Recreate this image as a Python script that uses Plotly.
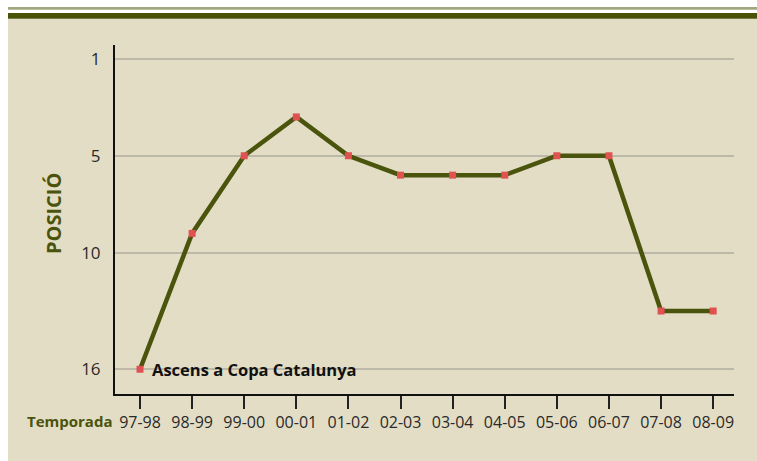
import plotly.graph_objects as go

seasons = ["97-98", "98-99", "99-00", "00-01", "01-02", "02-03",
           "03-04", "04-05", "05-06", "06-07", "07-08", "08-09"]
positions = [16, 9, 5, 3, 5, 6, 6, 6, 5, 5, 13, 13]
ytick_vals = [0, 5, 10, 16]
ytick_text = ["1", "5", "10", "16"]
note_text = "Ascens a Copa Catalunya"

W, H = 757, 461
L, R, T, B = 115, 23, 45, 67
pw, ph = W - L - R, H - T - B

def px(x):
    return (x - L) / pw

def py(y):
    return (H - B - y) / ph

BEIGE = "#e3ddc5"
OLIVE = "#4a540c"
FONT = "Open Sans"

fig = go.Figure()
fig.add_trace(go.Scatter(
    x=list(range(len(seasons))), y=positions, mode="lines+markers",
    line=dict(color=OLIVE, width=4.5),
    marker=dict(symbol="square", size=7, color="#e05252", line=dict(width=0)),
    hoverinfo="skip", showlegend=False, cliponaxis=False,
))

shapes = [
    dict(type="rect", xref="paper", yref="paper", x0=px(0), x1=px(W), y0=py(0), y1=py(19),
         fillcolor="white", line=dict(width=0), layer="above"),
    dict(type="rect", xref="paper", yref="paper", x0=px(0), x1=px(8), y0=py(0), y1=py(H),
         fillcolor="white", line=dict(width=0), layer="above"),
    dict(type="rect", xref="paper", yref="paper", x0=px(8), x1=px(W), y0=py(7), y1=py(9.7),
         fillcolor="#a2a67f", line=dict(width=0), layer="above"),
    dict(type="rect", xref="paper", yref="paper", x0=px(8), x1=px(W), y0=py(13), y1=py(18.7),
         fillcolor="#4a5206", line=dict(width=0), layer="above"),
]

annotations = [
    dict(x=0, y=positions[0], xref="x", yref="y", text="<b>" + note_text + "</b>",
         xanchor="left", yanchor="middle", xshift=10, showarrow=False,
         font=dict(family=FONT, size=16.5, color="#111111")),
    dict(x=px(114), y=py(421), xref="paper", yref="paper", text="<b>Temporada</b>",
         xanchor="right", yanchor="middle", showarrow=False,
         font=dict(family=FONT, size=15, color=OLIVE)),
    dict(x=px(53), y=py(214), xref="paper", yref="paper", text="<b>POSICIÓ</b>",
         textangle=-90, xanchor="center", yanchor="middle", showarrow=False,
         font=dict(family=FONT, size=20, color=OLIVE)),
]

fig.update_layout(
    width=W, height=H, margin=dict(l=L, r=R, t=T, b=B, autoexpand=False),
    paper_bgcolor=BEIGE, plot_bgcolor=BEIGE,
    shapes=shapes, annotations=annotations,
    font=dict(family=FONT, size=16, color="#222222"),
    xaxis=dict(
        range=[-0.48, 11.4], tickmode="array", tickvals=list(range(len(seasons))),
        ticktext=seasons, showgrid=False, zeroline=False,
        showline=True, linecolor="#111111", linewidth=2,
        ticks="outside", ticklen=13, tickwidth=1.5, tickcolor="#222222",
        tickfont=dict(family=FONT, size=16, color="#2a2a2a"), fixedrange=True,
    ),
    yaxis=dict(
        range=[17.275, -0.706], tickmode="array", tickvals=ytick_vals, ticktext=ytick_text,
        showgrid=True, gridcolor="#bdb9a8", gridwidth=2, zeroline=False,
        showline=True, linecolor="#111111", linewidth=2, ticks="", ticklabelstandoff=9,
        tickfont=dict(family=FONT, size=17, color="#2a2a2a"),
        fixedrange=True,
    ),
)

fig.write_html("out.html", config={"displayModeBar": False},
               post_script="document.body.style.margin='0';")
